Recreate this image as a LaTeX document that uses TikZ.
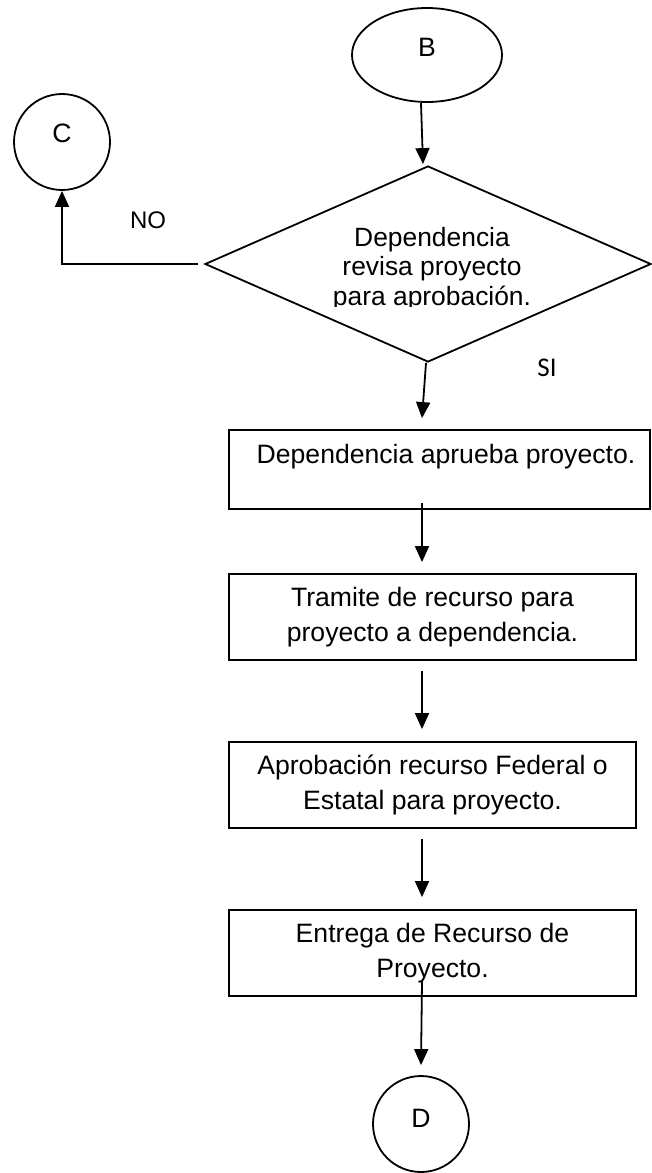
\documentclass[tikz,border=0pt]{standalone}
\usepackage{fontspec}
\setmainfont{Liberation Sans}
\newfontfamily\calib{Carlito}
\usetikzlibrary{shapes.geometric,arrows.meta}
\begin{document}
\begin{tikzpicture}[x=1pt,y=-1pt,
  line width=1.8pt,
  arr/.style={-{Triangle[width=14pt,length=16pt]}},
  boxnode/.style={draw, rectangle, minimum width=407pt, minimum height=86pt, inner sep=0pt,
    align=center, font=\fontsize{26.6}{35}\selectfont},
  txt/.style={inner sep=0pt, font=\fontsize{26.6}{35}\selectfont},
  conn/.style={draw, circle, minimum size=96pt, inner sep=0pt}]
\useasboundingbox (0,0) rectangle (651,1173);
% start connector B
\node[draw, ellipse, minimum width=150pt, minimum height=94pt, inner sep=0pt] (B) at (427,55) {};
\node[txt] (Bt) at (427,47) {B};
% decision
\node[draw, diamond, minimum width=446pt, minimum height=196pt, inner sep=0pt] (dec) at (428,264) {};
\begin{scope}
\clip (200,170) rectangle (651,306);
\node[inner sep=0pt, align=center, font=\fontsize{26.4}{29.5}\selectfont] (dect) at (432,269)
  {Dependencia\\revisa proyecto\\para aprobación.};
\end{scope}
% off-page connector C
\node[conn] (C) at (62,142) {};
\node[txt] (Ct) at (62,133) {C};
% boxes
\node[draw, rectangle, minimum width=421pt, minimum height=79pt, inner sep=0pt] (b1) at (439.5,469.5) {};
\node[txt] (b1t) at (446,457) {Dependencia aprueba proyecto.};
\node[boxnode] (b2) at (432.5,617) {Tramite de recurso para\\proyecto a dependencia.};
\node[boxnode] (b3) at (432.5,785) {Aprobación recurso Federal o\\Estatal para proyecto.};
\node[boxnode] (b4) at (432.5,953) {Entrega de Recurso de\\Proyecto.};
% end connector D
\node[conn] (D) at (421,1124) {};
\node[txt] (Dt) at (421,1118) {D};
% labels
\node[inner sep=0pt, font=\fontsize{24}{28}\selectfont] (no) at (148,220) {NO};
\node[inner sep=0pt, font=\calib\fontsize{27}{30}\selectfont] (si) at (547,368) {SI};
% connectors
\draw[arr] ([xshift=-6pt]B.south) -- ([xshift=-5pt,yshift=1pt]dec.north);
\draw[arr] ([xshift=-2pt]dec.south) -- ([xshift=-17.5pt,yshift=11pt]b1.north);
\draw[arr] ([xshift=-6pt]dec.west) -| (C.south);
\draw[arr] ([xshift=-17.5pt,yshift=7pt]b1.south) -- ([xshift=-10.5pt,yshift=11pt]b2.north);
\draw[arr] ([xshift=-10.5pt,yshift=-10pt]b2.south) -- ([xshift=-10.5pt,yshift=12pt]b3.north);
\draw[arr] ([xshift=-10.5pt,yshift=-10pt]b3.south) -- ([xshift=-10.5pt,yshift=12pt]b4.north);
\draw[arr] ([xshift=-10.5pt,yshift=16pt]b4.south) -- ([yshift=10pt]D.north);
\end{tikzpicture}
\end{document}
